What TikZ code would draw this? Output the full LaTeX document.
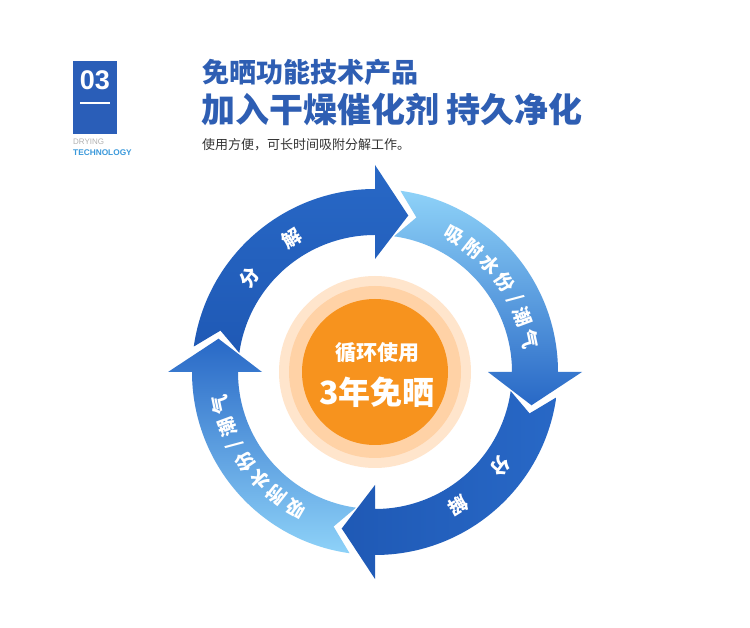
\documentclass[tikz,border=0pt]{standalone}
\usepackage{fontspec}
\newfontfamily\cjk{Noto Sans CJK SC}
\setmainfont{Liberation Sans}
\definecolor{hblue}{HTML}{2A5EB8}
\definecolor{tblue}{HTML}{2E5EB3}
\definecolor{dk}{HTML}{2868C6}
\definecolor{dk2}{HTML}{1F59B5}
\definecolor{lt}{HTML}{8ED2F8}
\definecolor{orng}{HTML}{F7931E}
\newcommand\myslash{/}
\tikzset{ch/.style={text=white,font=\cjk\bfseries\fontsize{19}{19}\selectfont,inner sep=0pt}}
\newcommand\seg[2]{\pgfmathsetmacro\T{#1+90}%
\path[#2] (\T-8:183pt) arc[start angle=\T-8,end angle=#1,radius=183pt] -- (#1:207pt) -- (#1-12:160pt) -- (#1:113pt) -- (#1:137pt) arc[start angle=#1,end angle=\T-8,radius=137pt] -- (\T-15:160pt) -- cycle;}
\begin{document}
\begin{tikzpicture}[x=1pt,y=1pt]
\useasboundingbox (0,0) rectangle (750,627);
\fill[white] (0,0) rectangle (750,627);
% header
\node[fill=hblue,minimum width=44pt,minimum height=73pt,inner sep=0pt,anchor=north west] (box) at (73,566) {};
\node[text=white,font=\bfseries\fontsize{27}{27}\selectfont] (n03) at (95,547) {03};
\draw[white,line width=1.8pt] (80,524) -- (110,524);
\node[anchor=west,text=gray!60,font=\fontsize{8}{8}\selectfont,inner sep=0pt] (dry) at (73,485) {DRYING};
\node[anchor=west,text=cyan!70!blue!80,font=\bfseries\fontsize{8.3}{8}\selectfont,inner sep=0pt] (tech) at (73,474) {TECHNOLOGY};
\node[anchor=west,text=tblue,font=\cjk\bfseries\fontsize{27}{27}\selectfont,inner sep=0pt] (t1) at (202,555) {免晒功能技术产品};
\node[anchor=west,text=tblue,font=\cjk\bfseries\fontsize{34}{34}\selectfont,inner sep=0pt] (t2) at (201,518) {加入干燥催化剂 持久净化};
\node[anchor=west,text=black!80,font=\cjk\fontsize{13}{13}\selectfont,inner sep=0pt] (t3) at (202,482) {使用方便，可长时间吸附分解工作。};
\begin{scope}[shift={(375,255)}]
\seg{90}{top color=dk,bottom color=dk2}
\seg{0}{top color=lt,bottom color=dk}
\seg{-90}{left color=dk2,right color=dk}
\seg{180}{bottom color=lt,top color=dk}
\node[ch,rotate=53] (a1) at (143:157pt) {分};
\node[ch,rotate=32] (a2) at (122:157pt) {解};
\foreach \c/\d in {吸/0,附/8.5,水/17,份/25.5,\myslash/32.5,潮/39.5,气/48}{
  \pgfmathsetmacro\a{60-\d}
  \node[ch,rotate=\a-90] at (\a:158pt) {\c};
  \pgfmathsetmacro\b{240-\d}
  \node[ch,rotate=\b-90] at (\b:158pt) {\c};
}
\node[ch,rotate=233] (b1) at (323:157pt) {分};
\node[ch,rotate=212] (b2) at (302:157pt) {解};
\fill[orange!20] (0,0) circle (96pt);
\fill[orange!35] (0,0) circle (86pt);
\fill[orng] (0,0) circle (73pt);
\node[text=white,font=\cjk\bfseries\fontsize{21}{21}\selectfont] (c1) at (2,19) {循环使用};
\node[text=white,font=\cjk\bfseries\fontsize{32}{32}\selectfont] (c2) at (2,-20) {3年免晒};
\end{scope}
\end{tikzpicture}
\end{document}
